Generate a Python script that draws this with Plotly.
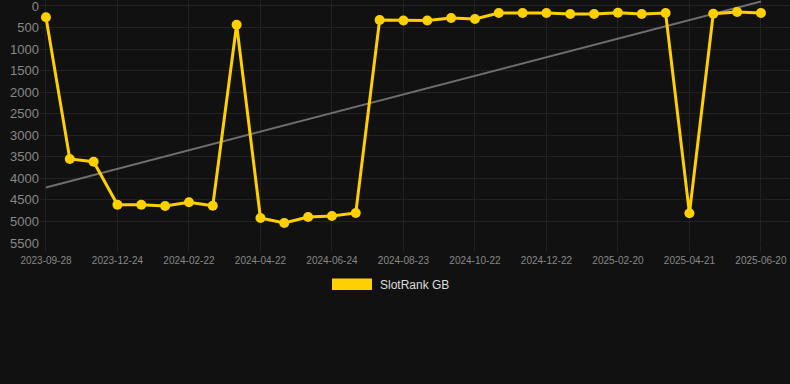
import numpy as np
import plotly.graph_objects as go

# ---- data ----
dates = [
    "2023-09-28", "2023-10-27", "2023-11-25",
    "2023-12-24", "2024-01-13", "2024-02-02",
    "2024-02-22", "2024-03-13", "2024-04-02",
    "2024-04-22", "2024-05-13", "2024-06-03",
    "2024-06-24", "2024-07-14", "2024-08-03",
    "2024-08-23", "2024-09-12", "2024-10-02",
    "2024-10-22", "2024-11-11", "2024-12-01",
    "2024-12-22", "2025-01-11", "2025-01-31",
    "2025-02-20", "2025-03-12", "2025-04-01",
    "2025-04-21", "2025-05-11", "2025-05-31",
    "2025-06-20",
]
ranks = [
    262, 3550, 3613,
    4611, 4611, 4641,
    4556, 4634, 434,
    4920, 5036, 4897,
    4873, 4804, 325,
    336, 336, 278,
    302, 162, 162,
    162, 186, 186,
    155, 186, 162,
    4811, 179, 139,
    162,
]
tick_dates = dates[::3]
y_ticks = [0, 500, 1000, 1500, 2000, 2500, 3000, 3500, 4000, 4500, 5000, 5500]
series_name = "SlotRank GB"

# ---- trend (least squares fit of the series) ----
idx = np.arange(len(ranks))
slope, intercept = np.polyfit(idx, ranks, 1)
trend = [intercept + slope * idx[0], intercept + slope * idx[-1]]

YELLOW = "#ffd000"
BG = "#111111"
GRID = "#222222"

fig = go.Figure()
fig.add_trace(go.Scatter(
    x=[dates[0], dates[-1]], y=trend, mode="lines",
    line=dict(color="#6e6e6e", width=2), hoverinfo="skip", showlegend=False,
))
fig.add_trace(go.Scatter(
    x=dates, y=ranks, mode="lines+markers", name=series_name,
    line=dict(color=YELLOW, width=3),
    marker=dict(color=YELLOW, size=10),
    showlegend=False,
))

# legend swatch + label
L, W, T, H = 40, 750, 0, 243
def px_x(p):
    return (p - L) / W
def px_y(p):
    return (T + H - p) / H

fig.add_shape(type="rect", xref="paper", yref="paper",
              x0=px_x(332), x1=px_x(372), y0=px_y(290), y1=px_y(278.5),
              fillcolor=YELLOW, line=dict(width=0))
fig.add_annotation(text=series_name, xref="paper", yref="paper",
                   x=px_x(378), y=px_y(284.5), xanchor="left", yanchor="middle",
                   showarrow=False, font=dict(size=12, color="#dddddd",
                                              family="Liberation Sans, Arial, sans-serif"))

fig.update_layout(
    width=790, height=384,
    margin=dict(l=L, r=0, t=T, b=384 - H),
    paper_bgcolor=BG, plot_bgcolor=BG,
    font=dict(family="Liberation Sans, Arial, sans-serif", color="#888888"),
    showlegend=False,
    xaxis=dict(
        type="category", categoryorder="array", categoryarray=dates,
        range=[-0.25, len(dates) - 1 + 1.22],
        tickmode="array", tickvals=tick_dates, ticktext=tick_dates,
        tickfont=dict(size=10, color="#888888"),
        showgrid=True, gridcolor=GRID, gridwidth=1,
        ticks="outside", ticklen=8, tickcolor=GRID,
        showline=False, zeroline=False,
    ),
    yaxis=dict(
        range=[5500, -139],
        tickmode="array", tickvals=y_ticks,
        tickfont=dict(size=13, color="#888888"),
        ticklabeloverflow="allow",
        showgrid=True, gridcolor=GRID, gridwidth=1,
        zeroline=False, showline=False, ticks="",
    ),
)

fig.write_html("out.html")
